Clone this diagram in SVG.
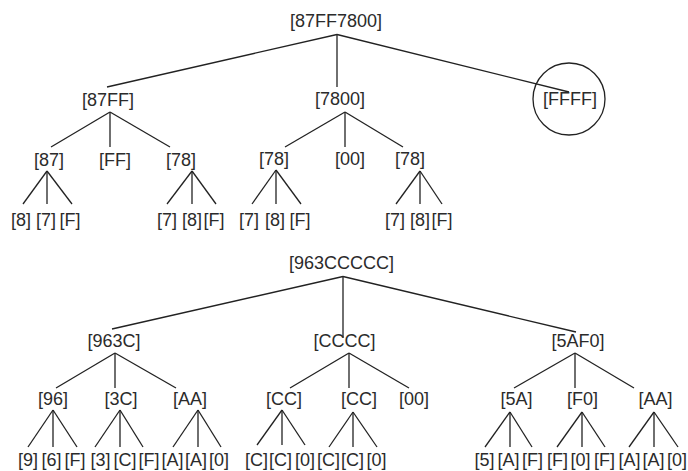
<svg xmlns="http://www.w3.org/2000/svg" width="688" height="471" viewBox="0 0 688 471">
<style>
text{font-family:"Liberation Sans",Arial,sans-serif;font-size:18px;fill:#2b2b2b;text-anchor:middle}
.e line{stroke:#222;stroke-width:1.3;fill:none}
.c{fill:none;stroke:#222;stroke-width:1.3}
</style>
<rect width="688" height="471" fill="#fff"/>
<g class="e" id="connectors">
<line x1="337" y1="34.5" x2="107" y2="87"/>
<line x1="337" y1="34.5" x2="337" y2="87"/>
<line x1="337" y1="34.5" x2="569" y2="92"/>
<line x1="110" y1="112" x2="51" y2="147"/>
<line x1="110" y1="112" x2="110" y2="147"/>
<line x1="110" y1="112" x2="170" y2="147"/>
<line x1="345" y1="112" x2="285" y2="147"/>
<line x1="345" y1="112" x2="345" y2="147"/>
<line x1="345" y1="112" x2="403" y2="147"/>
<line x1="47" y1="171" x2="23" y2="204"/>
<line x1="47" y1="171" x2="47" y2="204"/>
<line x1="47" y1="171" x2="72" y2="204"/>
<line x1="192" y1="171" x2="167" y2="204"/>
<line x1="192" y1="171" x2="192" y2="204"/>
<line x1="192" y1="171" x2="216" y2="204"/>
<line x1="276" y1="170" x2="252" y2="204"/>
<line x1="276" y1="170" x2="276" y2="204"/>
<line x1="276" y1="170" x2="301" y2="204"/>
<line x1="420" y1="171" x2="396" y2="204"/>
<line x1="420" y1="171" x2="420" y2="204"/>
<line x1="420" y1="171" x2="442" y2="204"/>
<line x1="343" y1="276.5" x2="112" y2="329"/>
<line x1="343" y1="276.5" x2="343" y2="338"/>
<line x1="343" y1="276.5" x2="576" y2="332"/>
<line x1="115" y1="353" x2="56" y2="388"/>
<line x1="115" y1="353" x2="115" y2="388"/>
<line x1="115" y1="353" x2="176" y2="388"/>
<line x1="349" y1="353" x2="290" y2="388"/>
<line x1="349" y1="353" x2="349" y2="388"/>
<line x1="349" y1="353" x2="409" y2="388"/>
<line x1="575" y1="353" x2="514" y2="388"/>
<line x1="575" y1="353" x2="575" y2="388"/>
<line x1="575" y1="353" x2="634" y2="388"/>
<line x1="53" y1="410" x2="28" y2="447"/>
<line x1="53" y1="410" x2="53" y2="447"/>
<line x1="53" y1="410" x2="77" y2="447"/>
<line x1="120" y1="410" x2="95" y2="447"/>
<line x1="120" y1="410" x2="120" y2="447"/>
<line x1="120" y1="410" x2="143" y2="447"/>
<line x1="198" y1="410" x2="173" y2="447"/>
<line x1="198" y1="410" x2="198" y2="447"/>
<line x1="198" y1="410" x2="221" y2="447"/>
<line x1="282" y1="410" x2="257" y2="445"/>
<line x1="282" y1="410" x2="282" y2="445"/>
<line x1="282" y1="410" x2="305" y2="445"/>
<line x1="353" y1="412" x2="329" y2="447"/>
<line x1="353" y1="412" x2="353" y2="447"/>
<line x1="353" y1="412" x2="377" y2="447"/>
<line x1="510" y1="412" x2="485" y2="447"/>
<line x1="510" y1="412" x2="510" y2="447"/>
<line x1="510" y1="412" x2="532" y2="447"/>
<line x1="582" y1="412" x2="557" y2="447"/>
<line x1="582" y1="412" x2="582" y2="447"/>
<line x1="582" y1="412" x2="605" y2="447"/>
<line x1="654" y1="412" x2="629" y2="447"/>
<line x1="654" y1="412" x2="654" y2="447"/>
<line x1="654" y1="412" x2="678" y2="447"/>
</g>
<g id="t1-root"><text x="336" y="27">[87FF7800]</text></g>
<g id="t1-87FF"><text x="108" y="106">[87FF]</text></g>
<g id="t1-7800"><text x="340" y="105">[7800]</text></g>
<g id="t1-FFFF"><circle class="c" cx="569" cy="99" r="36"/><text x="570" y="105">[FFFF]</text></g>
<g id="t1-87"><text x="49" y="166">[87]</text></g>
<g id="t1-FF"><text x="115" y="166">[FF]</text></g>
<g id="t1-78a"><text x="181" y="166">[78]</text></g>
<g id="t1-78b"><text x="274" y="165">[78]</text></g>
<g id="t1-00"><text x="350" y="165">[00]</text></g>
<g id="t1-78c"><text x="410" y="165">[78]</text></g>
<g id="t1-leaves-87"><text x="21" y="225.5">[8]</text><text x="46" y="225.5">[7]</text><text x="70" y="225.5">[F]</text></g>
<g id="t1-leaves-78a"><text x="167" y="225.5">[7]</text><text x="192" y="225.5">[8]</text><text x="214" y="225.5">[F]</text></g>
<g id="t1-leaves-78b"><text x="249" y="225.5">[7]</text><text x="275" y="225.5">[8]</text><text x="300" y="225.5">[F]</text></g>
<g id="t1-leaves-78c"><text x="395" y="225.5">[7]</text><text x="420" y="225.5">[8]</text><text x="442" y="225.5">[F]</text></g>
<g id="t2-root"><text x="341.5" y="269">[963CCCCC]</text></g>
<g id="t2-963C"><text x="114" y="347">[963C]</text></g>
<g id="t2-CCCC"><text x="344.5" y="347">[CCCC]</text></g>
<g id="t2-5AF0"><text x="578" y="347">[5AF0]</text></g>
<g id="t2-96"><text x="53" y="404.5">[96]</text></g>
<g id="t2-3C"><text x="121" y="404.5">[3C]</text></g>
<g id="t2-AAa"><text x="190" y="404.5">[AA]</text></g>
<g id="t2-CCa"><text x="284" y="404.5">[CC]</text></g>
<g id="t2-CCb"><text x="359" y="404.5">[CC]</text></g>
<g id="t2-00"><text x="414" y="404.5">[00]</text></g>
<g id="t2-5A"><text x="516.5" y="404.5">[5A]</text></g>
<g id="t2-F0"><text x="582.5" y="404.5">[F0]</text></g>
<g id="t2-AAb"><text x="655.5" y="404.5">[AA]</text></g>
<g id="t2-leaves-96"><text x="28" y="466">[9]</text><text x="51.5" y="466">[6]</text><text x="75" y="466">[F]</text></g>
<g id="t2-leaves-3C"><text x="100.5" y="466">[3]</text><text x="125" y="466">[C]</text><text x="149" y="466">[F]</text></g>
<g id="t2-leaves-AAa"><text x="172.5" y="466">[A]</text><text x="196" y="466">[A]</text><text x="219" y="466">[0]</text></g>
<g id="t2-leaves-CCa"><text x="256.5" y="466">[C]</text><text x="280.5" y="466">[C]</text><text x="305" y="466">[0]</text></g>
<g id="t2-leaves-CCb"><text x="328.5" y="466">[C]</text><text x="352.5" y="466">[C]</text><text x="376.5" y="466">[0]</text></g>
<g id="t2-leaves-5A"><text x="484.5" y="466">[5]</text><text x="508.5" y="466">[A]</text><text x="532.5" y="466">[F]</text></g>
<g id="t2-leaves-F0"><text x="557.5" y="466">[F]</text><text x="580.5" y="466">[0]</text><text x="604.5" y="466">[F]</text></g>
<g id="t2-leaves-AAb"><text x="629.5" y="466">[A]</text><text x="653.5" y="466">[A]</text><text x="677" y="466">[0]</text></g>
</svg>
